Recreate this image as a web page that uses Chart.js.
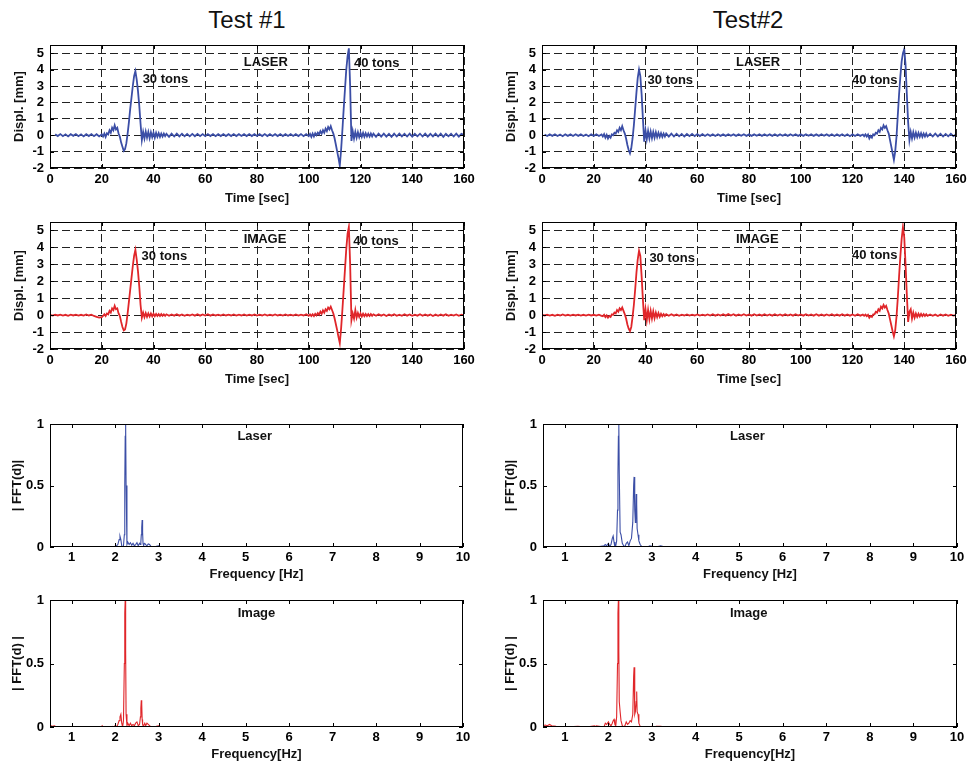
<!DOCTYPE html>
<html>
<head>
<meta charset="utf-8">
<script src="https://cdn.jsdelivr.net/npm/chart.js@4.4.0/dist/chart.umd.min.js"></script>
<style>
  body { margin: 0; background: #fff; width: 969px; height: 765px; position: relative; overflow: hidden;
         font-family: "Liberation Sans", Arial, Helvetica, sans-serif; }
  canvas { position: absolute; }
  .title { position: absolute; top: 8px; width: 200px; text-align: center; font-size: 24px; line-height: 24px; color: #111; }
</style>
</head>
<body>
<div class="title" style="left:147px">Test #1</div>
<div class="title" style="left:648px">Test#2</div>
<script>
// ---------- data ----------

// Test #1 sample times [sec]
var t1 = [
  0, 1, 2, 3, 4, 5, 6, 7, 8, 9, 10, 11, 12, 13, 14, 15, 16, 17, 18, 19, 20,
  20.5, 21, 21.5, 22, 22.5, 23, 23.5, 24, 24.5, 25, 25.5, 26, 26.5, 27, 27.5, 28, 28.5, 29, 29.5, 30,
  30.5, 31, 31.5, 32, 32.5, 33, 33.5, 34, 34.5, 35, 35.5, 36, 36.5, 37, 37.5, 38, 38.5, 39, 39.5, 40,
  40.5, 41, 41.5, 42, 42.5, 43, 43.5, 44, 44.5, 45,
  46, 47, 48, 49, 50, 51, 52, 53, 54, 55, 56, 57, 58, 59, 60, 61, 62, 63, 64, 65, 66, 67, 68, 69, 70,
  71, 72, 73, 74, 75, 76, 77, 78, 79, 80, 81, 82, 83, 84, 85, 86, 87, 88, 89, 90, 91, 92, 93, 94, 95,
  96, 97, 98, 99, 100,
  100.5, 101, 101.5, 102, 102.5, 103, 103.5, 104, 104.5, 105, 105.5, 106, 106.5, 107, 107.5, 108, 108.5, 109, 109.5, 110,
  110.5, 111, 111.5, 112, 112.5, 113, 113.5, 114, 114.5, 115, 115.5, 116, 116.5, 117, 117.5, 118, 118.5, 119, 119.5, 120,
  120.5, 121, 121.5, 122, 122.5, 123, 123.5, 124, 124.5, 125,
  126, 127, 128, 129, 130, 131, 132, 133, 134, 135, 136, 137, 138, 139, 140, 141, 142, 143, 144, 145,
  146, 147, 148, 149, 150, 151, 152, 153, 154, 155, 156, 157, 158, 159, 160
];

var laser1 = [
  null, null, 0.06, -0.05, 0.07, -0.06, 0.05, -0.07, 0.06, -0.04, 0.07, -0.06, 0.05, -0.07, 0.06, -0.05, 0.07, -0.06, 0.06, -0.07, 0.05,
  -0.08, 0.1, -0.1, 0.12, 0.05, 0.3, 0.15, 0.45, 0.3, 0.6,
  0.35, 0.45, 0.1, -0.1, -0.45, -0.7, -0.95, -0.85, -0.5, 0.1,
  0.8, 1.6, 2.3, 3.0, 3.6, 3.9, 3.4, 2.7, 1.8, 0.7,
  -0.3, 0.2, -0.2, 0.22, -0.15, 0.2, -0.18, 0.18, -0.12, 0.15,
  -0.15, 0.14, -0.1, 0.12, -0.1, 0.1, -0.08, 0.1, -0.06, 0.08,
  -0.1, 0.09, -0.08, 0.1, -0.07, 0.09, -0.07, 0.08, -0.07, 0.08, -0.06, 0.08, -0.06, 0.07, -0.06,
  0.07, -0.05, 0.07, -0.06, 0.06, -0.05, 0.07, -0.05, 0.06, -0.05, 0.07, -0.05, 0.06, -0.05, 0.06,
  -0.05, 0.07, -0.05, 0.06, -0.05, 0.06, -0.05, 0.07, -0.05, 0.06, -0.05, 0.06, -0.05, 0.07, -0.05,
  0.06, -0.05, 0.06, -0.05, 0.06, -0.05, 0.07, -0.06, 0.07, -0.06,
  0.08, -0.1, 0.1, -0.08, 0.12, 0.0, 0.15, 0.05, 0.25, 0.1,
  0.3, 0.15, 0.4, 0.25, 0.5, 0.35, 0.55, 0.3, 0.1, -0.2,
  -0.6, -1.0, -1.4, -1.85, -0.9, 0.3, 1.6, 2.8, 4.0, 4.8,
  5.3, 3.0, -0.35, 0.25, -0.2, 0.2, -0.15, 0.18, -0.12, 0.15,
  -0.1, 0.14, -0.1, 0.12, -0.08, 0.1, -0.08, 0.1, -0.07, 0.09,
  -0.1, 0.1, -0.08, 0.1, -0.09, 0.08, -0.1, 0.09, -0.08, 0.1, -0.07, 0.09, -0.08, 0.1, -0.09, 0.08, -0.07,
  0.09, -0.08, 0.1, -0.09, 0.08, -0.07, 0.1, -0.08, 0.09, -0.1, 0.08, -0.07, 0.09, -0.08, 0.1, -0.09, 0.08, 0.02
];

var image1 = [
  0.02, -0.03, 0.03, -0.02, 0.03, -0.03, 0.02, -0.04, 0.03, -0.02, 0.03, -0.03, 0.02, -0.03, 0.04, -0.02, 0.03, -0.05, -0.1, -0.15, -0.12,
  -0.05, 0.05, -0.05, 0.1, 0.05, 0.25, 0.15, 0.4, 0.3, 0.55,
  0.35, 0.4, 0.1, -0.05, -0.4, -0.7, -0.9, -0.85, -0.5, 0.1,
  0.8, 1.5, 2.2, 2.9, 3.5, 3.85, 3.3, 2.6, 1.7, 0.6,
  -0.15, 0.15, -0.12, 0.12, -0.1, 0.1, -0.08, 0.1, -0.07, 0.08,
  -0.06, 0.07, -0.05, 0.06, -0.05, 0.06, -0.04, 0.05, -0.04, 0.05,
  -0.04, 0.04, -0.03, 0.05, -0.03, 0.04, -0.04, 0.03, -0.02, 0.04,
  -0.03, 0.05, -0.03, 0.04, -0.02, 0.05, -0.03, 0.04, -0.02, 0.03,
  -0.03, 0.04, -0.02, 0.03, -0.02, 0.04, -0.03, 0.03, -0.02, 0.04,
  -0.03, 0.03, -0.02, 0.04, -0.03, 0.03, -0.02, 0.04, -0.03, 0.03,
  -0.02, 0.04, -0.02, 0.03, -0.03, 0.04, -0.02, 0.03, -0.03, 0.04,
  -0.03, 0.03, -0.02, 0.05, -0.04,
  0.04, -0.05, 0.05, -0.06, 0.08, -0.02, 0.12, 0.02, 0.2, 0.08,
  0.28, 0.15, 0.35, 0.25, 0.45, 0.35, 0.5, 0.3, 0.1, -0.2,
  -0.55, -0.9, -1.3, -1.65, -0.8, 0.3, 1.5, 2.7, 3.9, 4.8,
  5.2, 3.0, -0.3, 0.1, -0.2, 0.3, -0.15, 0.12, -0.1, 0.1,
  -0.08, 0.08, -0.06, 0.07, -0.06, 0.06, -0.05, 0.06, -0.04, 0.05,
  -0.04, 0.05, -0.03, 0.04, -0.05, 0.04, -0.03, 0.05, -0.04, 0.03,
  -0.04, 0.05, -0.03, 0.04, -0.04, 0.03, -0.03, 0.05, -0.04, 0.04,
  -0.03, 0.04, -0.05, 0.03, -0.04, 0.04, -0.03, 0.05, -0.04, 0.03,
  -0.03, 0.04, -0.04, 0.03, 0.0
];

// Test #2 sample times [sec]
var t2 = [
  0, 1, 2, 3, 4, 5, 6, 7, 8, 9, 10, 11, 12, 13, 14, 15, 16, 17, 18, 19, 20, 21, 22, 23,
  23.5, 24, 24.5, 25, 25.5, 26, 26.5, 27, 27.5, 28, 28.5, 29, 29.5, 30, 30.5, 31, 31.5, 32, 32.5, 33,
  33.5, 34, 34.5, 35, 35.5, 36, 36.5, 37, 37.5, 38, 38.5, 39, 39.5, 40, 40.5, 41, 41.5, 42, 42.5, 43,
  43.5, 44, 44.5, 45, 45.5, 46, 46.5, 47, 47.5, 48,
  49, 50, 51, 52, 53, 54, 55, 56, 57, 58, 59, 60, 61, 62, 63, 64, 65, 66, 67, 68, 69, 70, 71, 72, 73,
  74, 75, 76, 77, 78, 79, 80, 81, 82, 83, 84, 85, 86, 87, 88, 89, 90, 91, 92, 93, 94, 95, 96, 97, 98,
  99, 100, 101, 102, 103, 104, 105, 106, 107, 108, 109, 110, 111, 112, 113, 114, 115, 116, 117, 118,
  119, 120, 121, 122, 123, 124,
  124.5, 125, 125.5, 126, 126.5, 127, 127.5, 128, 128.5, 129, 129.5, 130, 130.5, 131, 131.5, 132, 132.5, 133, 133.5, 134,
  134.5, 135, 135.5, 136, 136.5, 137, 137.5, 138, 138.5, 139, 139.5, 140, 140.5, 141, 141.5, 142, 142.5, 143, 143.5, 144,
  144.5, 145, 145.5, 146, 146.5, 147, 147.5, 148, 148.5, 149,
  150, 151, 152, 153, 154, 155, 156, 157, 158, 159, 160
];

var laser2 = [
  null, 0.04, -0.05, 0.05, -0.04, 0.06, -0.05, 0.04, -0.06, 0.05, -0.04, 0.05, -0.05, 0.06, -0.04, 0.05, -0.05, 0.04, -0.06, 0.05, -0.04, 0.06, -0.05, 0.05,
  -0.08, 0.06, -0.15, 0.02, -0.2, -0.05, -0.15, 0.05, 0.0, 0.15,
  0.1, 0.3, 0.2, 0.45, 0.3, 0.55, 0.3, 0.1, -0.2, -0.6,
  -0.9, -1.1, -0.8, -0.2, 0.6, 1.6, 2.6, 3.5, 4.0, 3.6,
  2.5, 1.0, -0.4, 0.3, -0.25, 0.25, -0.2, 0.22, -0.18, 0.2,
  -0.15, 0.18, -0.12, 0.15, -0.1, 0.12, -0.1, 0.1, -0.08, 0.1,
  -0.09, 0.1, -0.08, 0.09, -0.07, 0.08, -0.08, 0.07, -0.06, 0.08,
  -0.06, 0.07, -0.05, 0.06, -0.05, 0.06, -0.04, 0.05, -0.05, 0.06,
  -0.04, 0.05, -0.04, 0.06, -0.03, 0.05, -0.04, 0.05, -0.03, 0.06,
  -0.04, 0.05, -0.04, 0.05, -0.03, 0.06, -0.04, 0.05, -0.03, 0.05,
  -0.04, 0.06, -0.04, 0.05, -0.03, 0.05, -0.04, 0.06, -0.03, 0.05,
  -0.04, 0.05, -0.04, 0.06, -0.03, 0.05, -0.04, 0.05, -0.04, 0.06,
  -0.03, 0.05, -0.04, 0.06, -0.05, 0.05, -0.04, 0.06, -0.05, 0.05,
  -0.06, 0.05, -0.05, 0.06, -0.04, 0.04,
  -0.06, 0.05, -0.08, 0.04, -0.2, -0.05, -0.15, 0.05, 0.0, 0.15,
  0.1, 0.3, 0.2, 0.45, 0.35, 0.6, 0.45, 0.55, 0.3, 0.1,
  -0.3, -0.7, -1.1, -1.5, -1.0, -0.1, 1.2, 2.5, 3.6, 4.5,
  5.0, 5.25, 4.3, 2.5, 0.8, -0.3, 0.2, -0.2, 0.18, -0.15,
  0.15, -0.12, 0.14, -0.1, 0.12, -0.1, 0.1, -0.08, 0.1, -0.08,
  0.08, -0.08, 0.1, -0.07, 0.09, -0.08, 0.08, -0.07, 0.09, -0.06, 0.05
];

var image2 = [
  0.02, -0.02, 0.03, -0.03, 0.02, -0.04, 0.03, -0.02, 0.04, -0.03, 0.02, -0.03, 0.03, -0.02, 0.03, -0.03, 0.02, -0.03, 0.03, -0.02, 0.02, -0.03, 0.03, -0.04,
  -0.06, 0.02, -0.12, -0.02, -0.15, -0.05, -0.1, 0.05, 0.02, 0.15,
  0.1, 0.3, 0.2, 0.4, 0.3, 0.45, 0.25, 0.05, -0.2, -0.55,
  -0.8, -0.95, -0.7, -0.1, 0.6, 1.5, 2.5, 3.3, 3.8, 3.5,
  2.3, 0.9, -0.3, 0.35, -0.3, 0.3, -0.25, 0.25, -0.2, 0.22,
  -0.18, 0.15, -0.12, 0.12, -0.1, 0.08, -0.06, 0.06, -0.05, 0.05,
  -0.04, 0.05, -0.03, 0.04, -0.04, 0.03, -0.02, 0.04, -0.03, 0.03,
  -0.02, 0.04, -0.03, 0.03, -0.02, 0.04, -0.02, 0.05, -0.03, 0.04,
  -0.02, 0.05, -0.03, 0.06, -0.02, 0.05, -0.03, 0.04, -0.02, 0.05,
  -0.02, 0.04, -0.03, 0.05, -0.02, 0.04, -0.03, 0.05, -0.02, 0.04,
  -0.03, 0.05, -0.02, 0.04, -0.03, 0.05, -0.02, 0.04, -0.03, 0.05,
  -0.02, 0.04, -0.03, 0.05, -0.02, 0.04, -0.03, 0.05, -0.03, 0.04,
  -0.03, 0.04, -0.02, 0.05, -0.03, 0.04, -0.03, 0.05, -0.03, 0.04,
  -0.03, 0.04, -0.04, 0.05, -0.03, 0.03,
  -0.04, 0.03, -0.06, 0.02, -0.15, -0.05, -0.1, 0.05, 0.05, 0.2,
  0.15, 0.35, 0.25, 0.5, 0.4, 0.6, 0.45, 0.55, 0.3, 0.1,
  -0.25, -0.6, -0.95, -1.25, -0.9, -0.1, 1.0, 2.3, 3.5, 4.5,
  5.2, 4.6, 3.0, 1.2, -0.4, 0.2, 0.35, -0.2, 0.15, -0.15,
  0.1, -0.1, 0.08, -0.08, 0.07, -0.06, 0.06, -0.05, 0.05, -0.04,
  0.04, -0.04, 0.03, -0.05, 0.04, -0.03, 0.04, -0.04, 0.03, -0.03, 0.0
];

// frequency grid [Hz] shared by the four spectra
var freq = [
  0.5, 0.55, 0.6, 0.65, 0.7, 0.8, 1.0, 1.3, 1.5, 1.68, 1.7, 1.72,
  1.9, 1.93, 1.96, 2.0, 2.03, 2.06, 2.09, 2.11, 2.13, 2.15, 2.17, 2.19, 2.21, 2.22, 2.23, 2.24, 2.25, 2.27, 2.29,
  2.32, 2.35, 2.38, 2.41, 2.44, 2.47, 2.5, 2.53, 2.56, 2.58, 2.59, 2.6, 2.61, 2.62, 2.63, 2.64, 2.65, 2.66, 2.68, 2.7,
  2.73, 2.76, 2.79, 2.82, 2.85, 2.9, 2.95, 3.0, 3.05, 3.1, 3.2, 3.3, 4, 10
];

var fftLaser1 = [
  0, 0, 0, 0, 0, 0, 0, 0, 0, 0, 0, 0,
  0, 0, 0, 0.005, 0.01, 0.02, 0.06, 0.087, 0.06, 0.01, 0.0, 0.01, 0.1, 0.5, 0.9, 1.0, 0.5, 0.02, 0.04,
  0.02, 0.035, 0.015, 0.03, 0.01, 0.02, 0.035, 0.01, 0.03, 0.02, 0.04, 0.1, 0.16, 0.22, 0.12, 0.03, 0.01, 0.02, 0.03, 0.02,
  0.01, 0.025, 0.02, 0.005, 0.0, 0.0, 0.005, 0.01, 0.0, 0, 0, 0, 0, 0
];

var fftLaser2 = [
  0, 0, 0, 0, 0, 0, 0, 0, 0, 0, 0, 0,
  0.01, 0.02, 0.01, 0.03, 0.005, 0.02, 0.07, 0.09, 0.04, 0.0, 0.01, 0.05, 0.3, 0.6, 0.9, 1.0, 0.6, 0.12, 0.1,
  0.03, 0.01, 0.0, 0.03, 0.04, 0.01, 0.05, 0.07, 0.2, 0.5, 0.57, 0.45, 0.3, 0.2, 0.3, 0.43, 0.35, 0.15, 0.1, 0.05,
  0.02, 0.005, 0, 0, 0, 0, 0.01, 0.005, 0, 0, 0.01, 0, 0, 0
];

var fftImage1 = [
  0.015, 0.005, 0.01, 0.0, 0.0, 0, 0, 0, 0, 0.0, 0.01, 0.0,
  0.0, 0.005, 0.0, 0.01, 0.0, 0.02, 0.05, 0.08, 0.1, 0.03, 0.0, 0.05, 0.5, 0.9, 1.0, 0.6, 0.1, 0.01, 0.03,
  0.01, 0.03, 0.01, 0.02, 0.01, 0.03, 0.04, 0.01, 0.02, 0.08, 0.15, 0.21, 0.18, 0.06, 0.02, 0.01, 0.02, 0.01, 0.03, 0.01,
  0.03, 0.02, 0.01, 0.0, 0.0, 0.0, 0.005, 0.01, 0.0, 0, 0, 0, 0, 0
];

var fftImage2 = [
  0.01, 0.015, 0.01, 0.02, 0.01, 0.005, 0.0, 0.005, 0.0, 0.01, 0.0, 0.01,
  0.0, 0.03, 0.02, 0.04, 0.02, 0.01, 0.03, 0.05, 0.06, 0.02, 0.01, 0.08, 0.5, 0.9, 1.0, 0.6, 0.2, 0.12, 0.05,
  0.01, 0.0, 0.01, 0.04, 0.02, 0.03, 0.05, 0.04, 0.1, 0.4, 0.47, 0.3, 0.1, 0.12, 0.12, 0.2, 0.28, 0.12, 0.1, 0.03,
  0.005, 0, 0, 0, 0, 0, 0, 0.005, 0.0, 0.005, 0.005, 0, 0, 0
];

// in-plot labels, placed in data coordinates
var notesLaser1 = [
  {text: 'LASER', x: 83.4, y: 4.45, align: 'center'},
  {text: '30 tons', x: 35.8, y: 3.4, align: 'left'},
  {text: '40 tons', x: 117.5, y: 4.36, align: 'left'}
];
var notesLaser2 = [
  {text: 'LASER', x: 83.5, y: 4.45, align: 'center'},
  {text: '30 tons', x: 40.8, y: 3.35, align: 'left'},
  {text: '40 tons', x: 119.8, y: 3.35, align: 'left'}
];
var notesImage1 = [
  {text: 'IMAGE', x: 83.1, y: 4.46, align: 'center'},
  {text: '30 tons', x: 35.4, y: 3.48, align: 'left'},
  {text: '40 tons', x: 117.2, y: 4.38, align: 'left'}
];
var notesImage2 = [
  {text: 'IMAGE', x: 83.2, y: 4.46, align: 'center'},
  {text: '30 tons', x: 41.5, y: 3.35, align: 'left'},
  {text: '40 tons', x: 119.8, y: 3.54, align: 'left'}
];
var notesFftLaser1 = [{text: 'Laser', x: 5.21, y: 0.897, align: 'center'}];
var notesFftLaser2 = [{text: 'Laser', x: 5.19, y: 0.9, align: 'center'}];
var notesFftImage1 = [{text: 'Image', x: 5.25, y: 0.895, align: 'center'}];
var notesFftImage2 = [{text: 'Image', x: 5.22, y: 0.895, align: 'center'}];

// ---------- styling / layout ----------

var BLUE = '#3b4ea6';
var RED = '#e0262a';
var FONT = '"Liberation Sans", Arial, Helvetica, sans-serif';

Chart.defaults.font.family = FONT;
Chart.defaults.color = '#000';

// plot-area rectangles in page pixels: [left, top, right, bottom]
var panels = [
  {box: [50, 45, 464, 168],  kind: 'disp', xs: t1, ys: laser1, color: BLUE, notes: notesLaser1, xTitle: 'Time [sec]', yTitle: 'Displ. [mm]'},
  {box: [542, 45, 956, 168], kind: 'disp', xs: t2, ys: laser2, color: BLUE, notes: notesLaser2, xTitle: 'Time [sec]', yTitle: 'Displ. [mm]'},
  {box: [50, 222, 464, 349], kind: 'disp', xs: t1, ys: image1, color: RED, notes: notesImage1, xTitle: 'Time [sec]', yTitle: 'Displ. [mm]'},
  {box: [542, 222, 956, 349], kind: 'disp', xs: t2, ys: image2, color: RED, notes: notesImage2, xTitle: 'Time [sec]', yTitle: 'Displ. [mm]'},
  {box: [50, 424, 463, 547], kind: 'fft', xs: freq, ys: fftLaser1, color: BLUE, notes: notesFftLaser1, xTitle: 'Frequency [Hz]', yTitle: '| FFT(d)|'},
  {box: [543, 424, 957, 547], kind: 'fft', xs: freq, ys: fftLaser2, color: BLUE, notes: notesFftLaser2, xTitle: 'Frequency [Hz]', yTitle: '| FFT(d)|'},
  {box: [50, 600, 463, 727], kind: 'fft', xs: freq, ys: fftImage1, color: RED, notes: notesFftImage1, xTitle: 'Frequency[Hz]', yTitle: '| FFT(d) |'},
  {box: [543, 600, 957, 727], kind: 'fft', xs: freq, ys: fftImage2, color: RED, notes: notesFftImage2, xTitle: 'Frequency[Hz]', yTitle: '| FFT(d) |'}
];

// MATLAB-like frame: full box, inward ticks, in-plot labels
var framePlugin = {
  id: 'frame',
  afterDatasetsDraw: function (chart, args, opts) {
    var ctx = chart.ctx;
    var a = chart.chartArea;
    var x = chart.scales.x;
    var y = chart.scales.y;
    ctx.save();
    ctx.setLineDash([]);
    ctx.strokeStyle = '#000';
    ctx.lineWidth = 1;
    ctx.beginPath();
    x.ticks.forEach(function (t) {
      var px = Math.round(x.getPixelForValue(t.value)) + 0.5;
      ctx.moveTo(px, a.bottom); ctx.lineTo(px, a.bottom - 4);
      ctx.moveTo(px, a.top); ctx.lineTo(px, a.top + 4);
    });
    y.ticks.forEach(function (t) {
      var py = Math.round(y.getPixelForValue(t.value)) + 0.5;
      ctx.moveTo(a.left, py); ctx.lineTo(a.left + 4, py);
      ctx.moveTo(a.right, py); ctx.lineTo(a.right - 4, py);
    });
    ctx.stroke();
    ctx.strokeRect(a.left + 0.5, a.top + 0.5, a.right - a.left - 1, a.bottom - a.top - 1);

    ctx.fillStyle = '#111';
    ctx.font = 'bold 13px ' + FONT;
    ctx.textBaseline = 'middle';
    (opts.notes || []).forEach(function (n) {
      ctx.textAlign = n.align;
      ctx.fillText(n.text, x.getPixelForValue(n.x), y.getPixelForValue(n.y));
    });
    ctx.restore();
  }
};

// plain MATLAB-style numbers: 1, 0.5, -2
function plainTick(value) {
  return String(Math.round(value * 100) / 100);
}

function makeChart(p) {
  var L = p.box[0], T = p.box[1], R = p.box[2], B = p.box[3];
  var disp = p.kind === 'disp';
  var canvas = document.createElement('canvas');
  canvas.width = R - L + 50 + 16;
  canvas.height = B - T + 12 + 42;
  canvas.style.left = (L - 50) + 'px';
  canvas.style.top = (T - 12) + 'px';
  document.body.appendChild(canvas);

  var points = p.xs.map(function (v, i) { return {x: v, y: p.ys[i]}; });
  var bold13 = {size: 13, weight: 'bold'};

  return new Chart(canvas.getContext('2d'), {
    type: 'line',
    data: {
      datasets: [{
        data: points,
        borderColor: p.color,
        borderWidth: disp ? 1.8 : 1.1,
        pointRadius: 0,
        tension: 0,
        spanGaps: false
      }]
    },
    options: {
      responsive: false,
      animation: false,
      events: [],
      layout: {padding: {left: 0, top: 12, right: 16, bottom: 0}},
      plugins: {
        legend: {display: false},
        tooltip: {enabled: false},
        frame: {notes: p.notes}
      },
      scales: {
        x: {
          type: 'linear',
          min: disp ? 0 : 0.5,
          max: disp ? 160 : 10,
          ticks: {stepSize: disp ? 20 : 1, includeBounds: false, autoSkip: false, maxRotation: 0,
                  padding: disp ? 4 : 3, color: '#000', font: bold13, callback: plainTick},
          grid: {display: disp, color: '#222', lineWidth: 1, drawTicks: false},
          border: {display: false, dash: [8, 4]},
          title: {display: true, text: p.xTitle, color: '#111', font: bold13,
                  padding: {top: 0, bottom: disp ? 4 : 7}},
          afterFit: function (s) { s.height = 42; s.paddingLeft = 0; s.paddingRight = 0; }
        },
        y: {
          type: 'linear',
          min: disp ? -2 : 0,
          max: disp ? 5.5 : 1,
          ticks: {stepSize: disp ? 1 : 0.5, includeBounds: false, autoSkip: false,
                  padding: 6, color: '#000', font: bold13, callback: plainTick},
          grid: {display: disp, color: '#222', lineWidth: 1, drawTicks: false},
          border: {display: false, dash: [8, 4]},
          title: {display: true, text: p.yTitle, color: '#111', font: bold13,
                  padding: {top: disp ? 12 : 10, bottom: 0}},
          afterFit: function (s) { s.width = 50; s.paddingTop = 0; s.paddingBottom = 0; }
        }
      }
    },
    plugins: [framePlugin]
  });
}

panels.forEach(makeChart);
</script>
</body>
</html>
